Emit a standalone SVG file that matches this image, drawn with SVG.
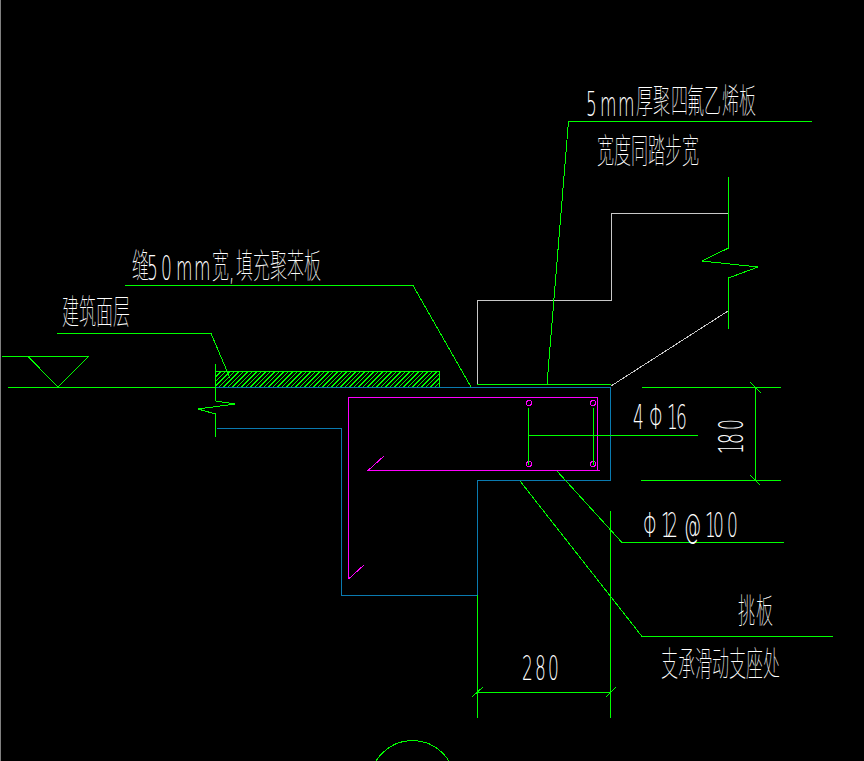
<svg xmlns="http://www.w3.org/2000/svg" width="864" height="761" viewBox="0 0 864 761">
<style>
.g{stroke:#00ff00;stroke-width:1;fill:none}
.b{stroke:#0a7ab0;stroke-width:1;fill:none}
.m{stroke:#ff00ff;stroke-width:1;fill:none}
.w{stroke:#c8c8c8;stroke-width:1;fill:none}
g{shape-rendering:crispEdges}
text{fill:#ffffff;font-size:34px;font-weight:100;font-family:"DejaVu Sans","Noto Sans CJK SC",sans-serif}
.t{transform:scale(.5,1)}
</style>
<defs>
<clipPath id="hatch-clip"><rect x="215" y="371" width="225" height="17"/></clipPath>
</defs>
<rect width="864" height="761" fill="#000000"/>
<path d="M0.5 0V761" stroke="#808080"/>
<g id="surface-level">
<path class="g" d="M8 387.5H216M2 356.5H88.5L58 387L28 356.5M215.5 364V401L235 404L198 409L215.5 414V437"/>
</g>
<g id="floor-finish">
<rect x="215.5" y="371.5" width="224" height="16" class="g"/>
<path class="g" clip-path="url(#hatch-clip)" d="M201 387l16-16M205.500 387l16-16M210 387l16-16M214.500 387l16-16M219 387l16-16M223.500 387l16-16M228 387l16-16M232.500 387l16-16M237 387l16-16M241.500 387l16-16M246 387l16-16M250.500 387l16-16M255 387l16-16M259.500 387l16-16M264 387l16-16M268.500 387l16-16M273 387l16-16M277.500 387l16-16M282 387l16-16M286.500 387l16-16M291 387l16-16M295.500 387l16-16M300 387l16-16M304.500 387l16-16M309 387l16-16M313.500 387l16-16M318 387l16-16M322.500 387l16-16M327 387l16-16M331.500 387l16-16M336 387l16-16M340.500 387l16-16M345 387l16-16M349.500 387l16-16M354 387l16-16M358.500 387l16-16M363 387l16-16M367.500 387l16-16M372 387l16-16M376.500 387l16-16M381 387l16-16M385.500 387l16-16M390 387l16-16M394.500 387l16-16M399 387l16-16M403.500 387l16-16M408 387l16-16M412.500 387l16-16M417 387l16-16M421.500 387l16-16M426 387l16-16M430.500 387l16-16M435 387l16-16"/>
</g>
<g id="concrete-outline">
<path class="b" d="M216 387.500H610.500V480.500H477.500V595M217 428.500H341.500V595.500H477.500"/>
</g>
<g id="stair">
<path class="w" d="M477.500 384V300.500H611.500V213.500H728M611 386L728 311"/>
<path class="g" d="M477 384.500H611M728.500 177V248L702 261L758 267L728.500 278V329"/>
</g>
<g id="rebar">
<path class="m" d="M348.500 579V397.500H597.500V470M600 470.500H368L384 456M348.500 579L364 565"/>
<circle class="m" cx="529" cy="403" r="2.500"/>
<circle class="m" cx="593" cy="403" r="2.500"/>
<circle class="m" cx="529" cy="464" r="2.500"/>
<circle class="m" cx="593" cy="464" r="2.500"/>
</g>
<g id="connectors">
<path class="g" d="M125 285.500H413L471 387"/>
<path class="g" d="M57 333.500H211L230 378"/>
<path class="g" d="M812 121.500H568.500L547 384"/>
<path class="g" d="M528.500 408V465M593.500 408V465M528 435.500H698"/>
<path class="g" d="M557 471L622 542.500H784"/>
<path class="g" d="M520 481L642 636.500H833"/>
</g>
<g id="dimensions">
<path class="g" d="M642 387.500H781M641 480.500H781M755.500 387V480M750 382L761 393M750 475L760 485"/>
<path class="g" d="M477.500 595V718M610.500 511V718M477 692.500H611M472 697L483 687M606 697L616 687"/>
</g>
<g id="section-mark">
<circle class="g" cx="412.500" cy="783" r="42.500"/>
</g>
<g id="labels">
<text class="t" x="264 294 322 352 388 424 458 472 506 540 574 608" y="278 280 280 280 280 278 280 278 278 278 278 278">缝50mm宽,填充聚苯板</text>
<text class="t" x="124 158 192 226" y="324">建筑面层</text>
<text class="t" x="1172 1200 1236 1272 1306 1342 1374 1408 1444 1478" y="116 116 116 113 113 113 113 113 113 113">5mm厚聚四氟乙烯板</text>
<text class="t" x="1194" y="163">宽度同踏步宽</text>
<text class="t" x="1266 1298 1334 1352" y="429">4Φ16</text>
<text transform="translate(743,452) rotate(-90) scale(.5,1)" x="-4 16 44" y="0">180</text>
<text class="t" x="1286 1322 1334 1368 1410 1426 1454" y="537">Φ12@100</text>
<text class="t" x="1476 1512" y="623">挑板</text>
<text class="t" x="1044 1070 1096" y="680">280</text>
<text class="t" x="1322" y="676">支承滑动支座处</text>
</g>
</svg>
